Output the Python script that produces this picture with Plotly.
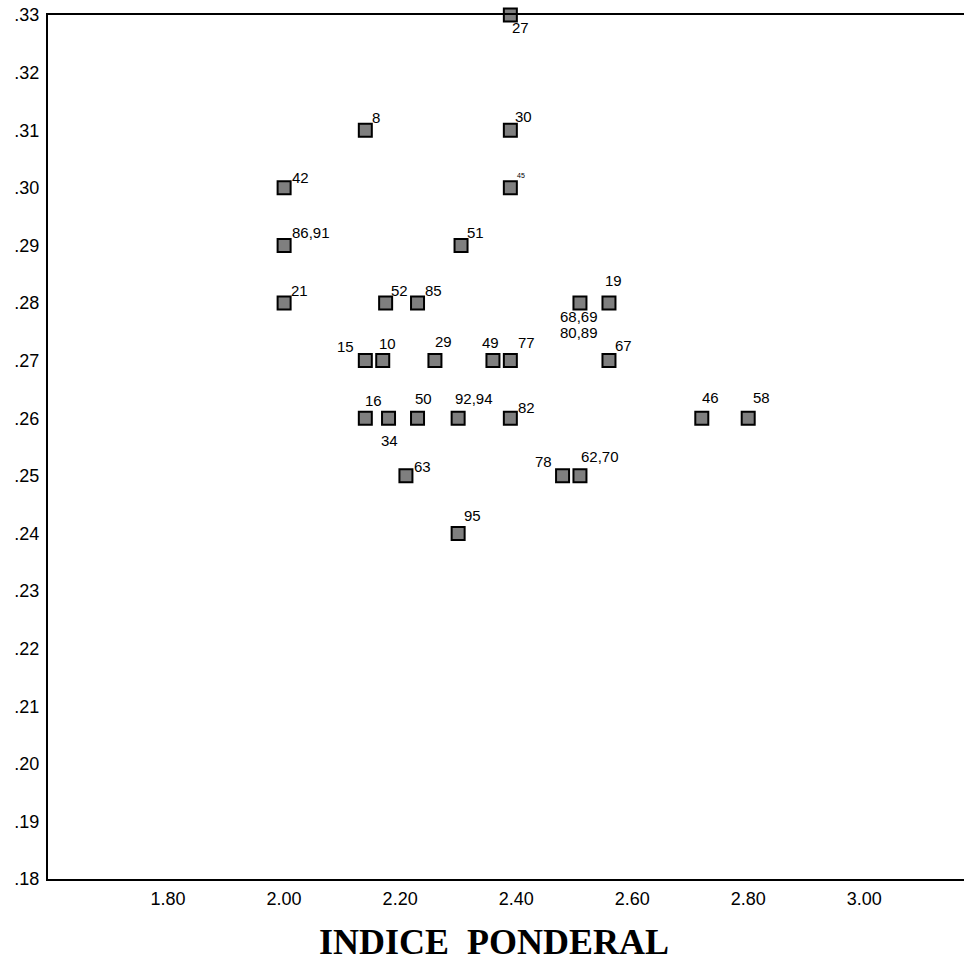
import plotly.graph_objects as go

# Data
indice_ponderal = [2.14, 2.39, 2.00, 2.39, 2.00, 2.305, 2.00, 2.175, 2.23, 2.51, 2.56,
                   2.14, 2.17, 2.26, 2.36, 2.39, 2.56, 2.14, 2.18, 2.23, 2.30, 2.39,
                   2.72, 2.80, 2.21, 2.48, 2.51, 2.30, 2.39]
y_values = [0.31, 0.31, 0.30, 0.30, 0.29, 0.29, 0.28, 0.28, 0.28, 0.28, 0.28,
            0.27, 0.27, 0.27, 0.27, 0.27, 0.27, 0.26, 0.26, 0.26, 0.26, 0.26,
            0.26, 0.26, 0.25, 0.25, 0.25, 0.24, 0.33]
case_labels = ["8", "30", "42", "45", "86,91", "51", "21", "52", "85", "68,69<br>80,89", "19",
               "15", "10", "29", "49", "77", "67", "16", "34", "50", "92,94", "82",
               "46", "58", "63", "78", "62,70", "95", "27"]

y_tickvals = [0.18, 0.19, 0.20, 0.21, 0.22, 0.23, 0.24, 0.25, 0.26, 0.27, 0.28, 0.29, 0.30, 0.31, 0.32, 0.33]
y_ticktext = [".18", ".19", ".20", ".21", ".22", ".23", ".24", ".25", ".26", ".27", ".28", ".29", ".30", ".31", ".32", ".33"]
x_tickvals = [1.8, 2.0, 2.2, 2.4, 2.6, 2.8, 3.0]
x_ticktext = ["1.80", "2.00", "2.20", "2.40", "2.60", "2.80", "3.00"]
x_title = "INDICE&nbsp;&nbsp;PONDERAL"

# Label placement style: (xanchor, yanchor, xshift px, yshift px)
UR = ("left", "bottom", 5, 2)
placement = {
    "8": ("left", "bottom", 5, 2),
    "30": ("left", "bottom", 3, 3),
    "42": ("left", "bottom", 6, 0),
    "45": ("left", "bottom", 5, 7),
    "86,91": ("left", "bottom", 6, 2),
    "51": ("left", "bottom", 4, 2),
    "21": ("left", "bottom", 5, 2),
    "52": ("left", "bottom", 3, 2),
    "85": ("left", "bottom", 5, 2),
    "27": ("left", "top", 0, -2),
    "68,69<br>80,89": ("center", "top", -1, -3),
    "19": ("center", "bottom", 5, 12),
    "15": ("right", "bottom", -9, 4),
    "10": ("center", "bottom", 5, 7),
    "29": ("center", "bottom", 9, 9),
    "49": ("center", "bottom", -2, 8),
    "77": ("center", "bottom", 16, 8),
    "67": ("left", "bottom", 4, 5),
    "16": ("center", "bottom", 8, 7),
    "34": ("center", "top", 1, -12),
    "50": ("center", "bottom", 6, 9),
    "92,94": ("left", "bottom", -5, 9),
    "82": ("left", "bottom", 6, 0),
    "46": ("center", "bottom", 9, 10),
    "58": ("center", "bottom", 13, 10),
    "63": ("left", "bottom", 6, -1),
    "78": ("right", "bottom", -9, 4),
    "62,70": ("left", "bottom", -1, 9),
    "95": ("left", "bottom", 4, 7),
}
LINE_STEP = 16

fig = go.Figure()
fig.add_trace(go.Scatter(
    x=indice_ponderal, y=y_values, mode="markers",
    marker=dict(symbol="square", size=13, color="#7f7f7f",
                line=dict(color="black", width=2)),
    cliponaxis=False, showlegend=False, hoverinfo="skip"))

for xv, yv, lab in zip(indice_ponderal, y_values, case_labels):
    xa, ya, dx, dy = placement.get(lab, UR)
    size = 7 if lab == "45" else 15
    for i, line in enumerate(lab.split("<br>")):
        fig.add_annotation(x=xv, y=yv, text=line, showarrow=False,
                           xanchor=xa, yanchor=ya, xshift=dx, yshift=dy - i * LINE_STEP,
                           font=dict(family="Liberation Sans, Arial", size=size, color="black"))

fig.add_annotation(x=0.487, y=0, xref="paper", yref="paper", yanchor="middle",
                   yshift=-63, text="<b>" + x_title + "</b>", showarrow=False,
                   font=dict(family="Liberation Serif, Times New Roman", size=36, color="black"))

fig.update_layout(
    width=964, height=961,
    margin=dict(l=48, r=0, t=15, b=82),
    paper_bgcolor="white", plot_bgcolor="white",
    font=dict(family="Liberation Sans, Arial", color="black"),
    hovermode=False,
    xaxis=dict(range=[1.593, 3.172], tickvals=x_tickvals, ticktext=x_ticktext,
               showgrid=False, zeroline=False, showline=True, linecolor="black",
               linewidth=2, mirror=True, ticks="", tickfont=dict(size=18),
               ticklabelstandoff=2),
    yaxis=dict(range=[0.18, 0.33], tickvals=y_tickvals, ticktext=y_ticktext,
               showgrid=False, zeroline=False, showline=True, linecolor="black",
               linewidth=2, ticks="", tickfont=dict(size=18), ticklabelstandoff=3),
)

fig.write_html("out.html", config={"displayModeBar": False},
               post_script="document.body.style.margin='0';document.body.style.overflow='hidden';")
